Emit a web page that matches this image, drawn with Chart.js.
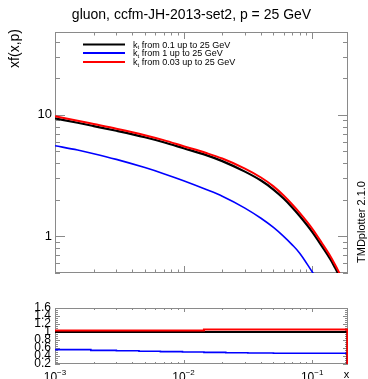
<!DOCTYPE html>
<html><head><meta charset="utf-8">
<script src="https://cdn.jsdelivr.net/npm/chart.js@4"></script>
<style>
html,body{margin:0;padding:0;background:#fff;}
#wrap{position:relative;width:368px;height:379px;overflow:hidden;}
canvas{position:absolute;left:0;}
</style>
</head><body>
<div id="wrap">
<canvas id="main" width="368" height="290" style="top:0"></canvas>
<canvas id="ratio" width="368" height="89" style="top:290px"></canvas>
</div>
<script>
// ---------------- data ----------------
const X = [0.001, 0.0015, 0.002, 0.003, 0.005, 0.007, 0.01, 0.015, 0.02, 0.03, 0.04, 0.05, 0.06, 0.07, 0.08, 0.1, 0.12, 0.14, 0.15, 0.16, 0.18, 0.19];
const BLACK = [9.36, 8.60, 8.08, 7.39, 6.54, 5.95, 5.31, 4.66, 4.16, 3.41, 2.88, 2.43, 2.05, 1.73, 1.47, 1.09, 0.82, 0.636, 0.557, 0.489, 0.375, 0.33];
const BLUE  = [5.57, 5.13, 4.79, 4.30, 3.68, 3.28, 2.87, 2.43, 2.14, 1.71, 1.41, 1.185, 1.00, 0.852, 0.728, 0.512, 0.382, 0.299, 0.266, 0.238, 0.193, 0.175];
const RED   = [9.72, 8.94, 8.40, 7.69, 6.80, 6.19, 5.52, 4.85, 4.37, 3.61, 3.05, 2.58, 2.17, 1.83, 1.56, 1.16, 0.87, 0.674, 0.590, 0.518, 0.398, 0.35];

const RATIO_X     = [0.001, 0.0019, 0.003, 0.0045, 0.0066, 0.0098, 0.0144, 0.0213, 0.0316, 0.05, 0.093, 0.188, 0.188];
const RATIO_BLACK = [1.0, 1.0, 1.0, 1.0, 1.0, 1.0, 1.0, 1.0, 1.0, 1.0, 1.0, 1.0, 0.0];
const RATIO_BLUE  = [0.58, 0.56, 0.54, 0.53, 0.52, 0.51, 0.50, 0.49, 0.48, 0.475, 0.47, 0.47, 0.0];
const RATIO_RED   = [1.04, 1.04, 1.04, 1.04, 1.04, 1.04, 1.04, 1.06, 1.06, 1.06, 1.06, 1.06, 0.0];

const LEGEND_LABELS = ['from 0.1 up to 25 GeV', 'from 1 up to 25 GeV', 'from 0.03 up to 25 GeV'];
const MAIN_Y_TICKS = [1, 10];
const RATIO_Y_TICKS = [0.2, 0.4, 0.6, 0.8, 1.0, 1.2, 1.4, 1.6];
const X_TICK_EXP = [-3, -2, -1];
const TITLE = 'gluon, ccfm-JH-2013-set2, p = 25 GeV';
const Y_TITLE = 'xf(x,p)';
const X_TITLE = 'x';
const SIDE_TEXT = 'TMDplotter 2.1.0';

// ---------------- helpers ----------------
const FONT = "'Liberation Sans', Arial, Helvetica, sans-serif";
const FRAME = '#8a8a8a';
const COLORS = {black: '#000000', blue: '#0000ff', red: '#ff0000'};
const pts = (xs, ys) => xs.map((x, i) => ({x: x, y: ys[i]}));
const crisp = v => Math.round(v) + 0.5;

function logTicks(min, max) {
  const out = [];
  for (let d = Math.floor(Math.log10(min)); d <= Math.ceil(Math.log10(max)); d++) {
    for (let m = 1; m <= 9; m++) {
      const v = m * Math.pow(10, d);
      if (v >= min * 0.9999 && v <= max * 1.0001) out.push({v: v, major: m === 1});
    }
  }
  return out;
}
function linTicks(min, max, step, majorEvery) {
  const out = [];
  const n = Math.round((max - min) / step);
  for (let i = 0; i <= n; i++) out.push({v: min + i * step, major: i % majorEvery === 0});
  return out;
}
function frameTicks(chart, cfg) {
  const ctx = chart.ctx, a = chart.chartArea, x = chart.scales.x, y = chart.scales.y;
  ctx.save();
  ctx.strokeStyle = FRAME; ctx.lineWidth = 1;
  ctx.beginPath();
  for (const t of cfg.xTicks) {
    const px = crisp(x.getPixelForValue(t.v));
    const L = t.major ? cfg.xMaj : cfg.xMin;
    ctx.moveTo(px, a.bottom); ctx.lineTo(px, a.bottom - L);
    ctx.moveTo(px, a.top); ctx.lineTo(px, a.top + L);
  }
  for (const t of cfg.yTicks) {
    const py = crisp(y.getPixelForValue(t.v));
    const L = t.major ? cfg.yMaj : cfg.yMin;
    ctx.moveTo(a.left, py); ctx.lineTo(a.left + L, py);
    ctx.moveTo(a.right, py); ctx.lineTo(a.right - L, py);
  }
  ctx.stroke();
  ctx.strokeRect(crisp(a.left), crisp(a.top), Math.round(a.right - a.left) - 1, Math.round(a.bottom - a.top) - 1);
  ctx.restore();
}
const lineDS = (label, xs, ys, color, w, order) => ({
  label: label, data: pts(xs, ys), borderColor: color, borderWidth: w,
  pointRadius: 0, cubicInterpolationMode: 'monotone', order: order
});

// ---------------- main chart ----------------
const mainPlugin = {
  id: 'mainDecor',
  beforeDatasetsDraw(chart) {
    frameTicks(chart, {
      xTicks: logTicks(0.001, 0.19), xMaj: 7, xMin: 3.5,
      yTicks: logTicks(0.5, 48), yMaj: 10, yMin: 5
    });
  },
  afterDraw(chart) {
    const ctx = chart.ctx;
    ctx.save();
    ctx.fillStyle = '#000';
    ctx.font = '14px ' + FONT;
    ctx.textAlign = 'center'; ctx.textBaseline = 'alphabetic';
    ctx.fillText(TITLE, 191.5, 19);
    ctx.save();
    ctx.translate(15, 29);
    ctx.rotate(-Math.PI / 2);
    ctx.font = '14px ' + FONT;
    ctx.textAlign = 'right'; ctx.textBaseline = 'middle';
    ctx.fillText(Y_TITLE, 0, 0);
    ctx.restore();
    ctx.save();
    ctx.translate(362, 222);
    ctx.rotate(-Math.PI / 2);
    ctx.font = '11px ' + FONT;
    ctx.textAlign = 'center'; ctx.textBaseline = 'middle';
    ctx.fillText(SIDE_TEXT, 0, 0);
    ctx.restore();
    const ys = [44.5, 53, 62];
    [0, 1, 2].forEach((di, i) => {
      const ds = chart.data.datasets[di];
      const yy = ys[i];
      ctx.strokeStyle = ds.borderColor; ctx.lineWidth = 2;
      ctx.beginPath(); ctx.moveTo(83, yy); ctx.lineTo(125, yy); ctx.stroke();
      ctx.fillStyle = '#000';
      ctx.textAlign = 'left'; ctx.textBaseline = 'alphabetic';
      ctx.font = '9px ' + FONT;
      const base = yy + 3;
      ctx.fillText('k', 133, base);
      const kw = ctx.measureText('k').width;
      ctx.font = '6px ' + FONT;
      ctx.fillText('t', 133 + kw, base + 1.5);
      const tw = ctx.measureText('t').width;
      ctx.font = '9px ' + FONT;
      ctx.fillText(' ' + LEGEND_LABELS[i], 133 + kw + tw, base);
    });
    ctx.restore();
  }
};

new Chart(document.getElementById('main'), {
  type: 'line',
  data: {
    datasets: [
      lineDS(LEGEND_LABELS[0], X, BLACK, COLORS.black, 2.2, 1),
      lineDS(LEGEND_LABELS[1], X, BLUE, COLORS.blue, 1.6, 2),
      lineDS(LEGEND_LABELS[2], X, RED, COLORS.red, 2, 0)
    ]
  },
  options: {
    responsive: false, animation: false, events: [],
    layout: {padding: {left: 0, right: 20, top: 32, bottom: 17}},
    plugins: {legend: {display: false}, tooltip: {enabled: false}, title: {display: false}},
    scales: {
      x: {type: 'logarithmic', min: 0.001, max: 0.19, display: false},
      y: {
        type: 'logarithmic', min: 0.5, max: 48,
        afterFit(s) { s.width = 55; },
        afterBuildTicks(s) { s.ticks = MAIN_Y_TICKS.map(v => ({value: v})); },
        ticks: {callback: v => String(v), font: {family: FONT, size: 13}, color: '#000', padding: 3, autoSkip: false},
        grid: {display: false, drawTicks: false}, border: {display: false}
      }
    }
  },
  plugins: [mainPlugin]
});

// ---------------- ratio chart ----------------
const ratioPlugin = {
  id: 'ratioDecor',
  beforeDatasetsDraw(chart) {
    frameTicks(chart, {
      xTicks: logTicks(0.001, 0.19), xMaj: 4, xMin: 2,
      yTicks: linTicks(0.2, 1.6, 0.05, 4), yMaj: 5, yMin: 3
    });
  },
  afterDraw(chart) {
    const ctx = chart.ctx, x = chart.scales.x;
    ctx.save();
    ctx.fillStyle = '#000';
    ctx.textBaseline = 'alphabetic'; ctx.textAlign = 'left';
    X_TICK_EXP.forEach(e => {
      const px = x.getPixelForValue(Math.pow(10, e));
      ctx.font = '12px ' + FONT;
      const w1 = ctx.measureText('10').width;
      ctx.font = '8px ' + FONT;
      const sup = '\u2212' + Math.abs(e);
      const w2 = ctx.measureText(sup).width;
      const left = px - (w1 + w2) / 2;
      ctx.font = '12px ' + FONT;
      ctx.fillText('10', left, 91);
      ctx.font = '8px ' + FONT;
      ctx.fillText(sup, left + w1, 85);
    });
    ctx.font = '11px ' + FONT;
    ctx.textAlign = 'center';
    ctx.fillText(X_TITLE, 346.5, 87.5);
    ctx.restore();
  }
};

const stepDS = (xs, ys, color, w, order) => ({
  data: pts(xs, ys), borderColor: color, borderWidth: w, pointRadius: 0, stepped: 'after', order: order
});

new Chart(document.getElementById('ratio'), {
  type: 'line',
  data: {
    datasets: [
      stepDS(RATIO_X, RATIO_BLACK, COLORS.black, 2, 1),
      stepDS(RATIO_X, RATIO_BLUE, COLORS.blue, 1.6, 2),
      stepDS(RATIO_X, RATIO_RED, COLORS.red, 2, 0)
    ]
  },
  options: {
    responsive: false, animation: false, events: [],
    layout: {padding: {left: 0, right: 20, top: 18, bottom: 15}},
    plugins: {legend: {display: false}, tooltip: {enabled: false}, title: {display: false}},
    scales: {
      x: {type: 'logarithmic', min: 0.001, max: 0.19, display: false},
      y: {
        type: 'linear', min: 0.2, max: 1.6,
        afterFit(s) { s.width = 55; },
        afterBuildTicks(s) { s.ticks = RATIO_Y_TICKS.map(v => ({value: v})); },
        ticks: {callback: v => String(+(+v).toFixed(1)), font: {family: FONT, size: 12}, color: '#000', padding: 4, autoSkip: false},
        grid: {display: false, drawTicks: false}, border: {display: false}
      }
    }
  },
  plugins: [ratioPlugin]
});
</script>
</body></html>
